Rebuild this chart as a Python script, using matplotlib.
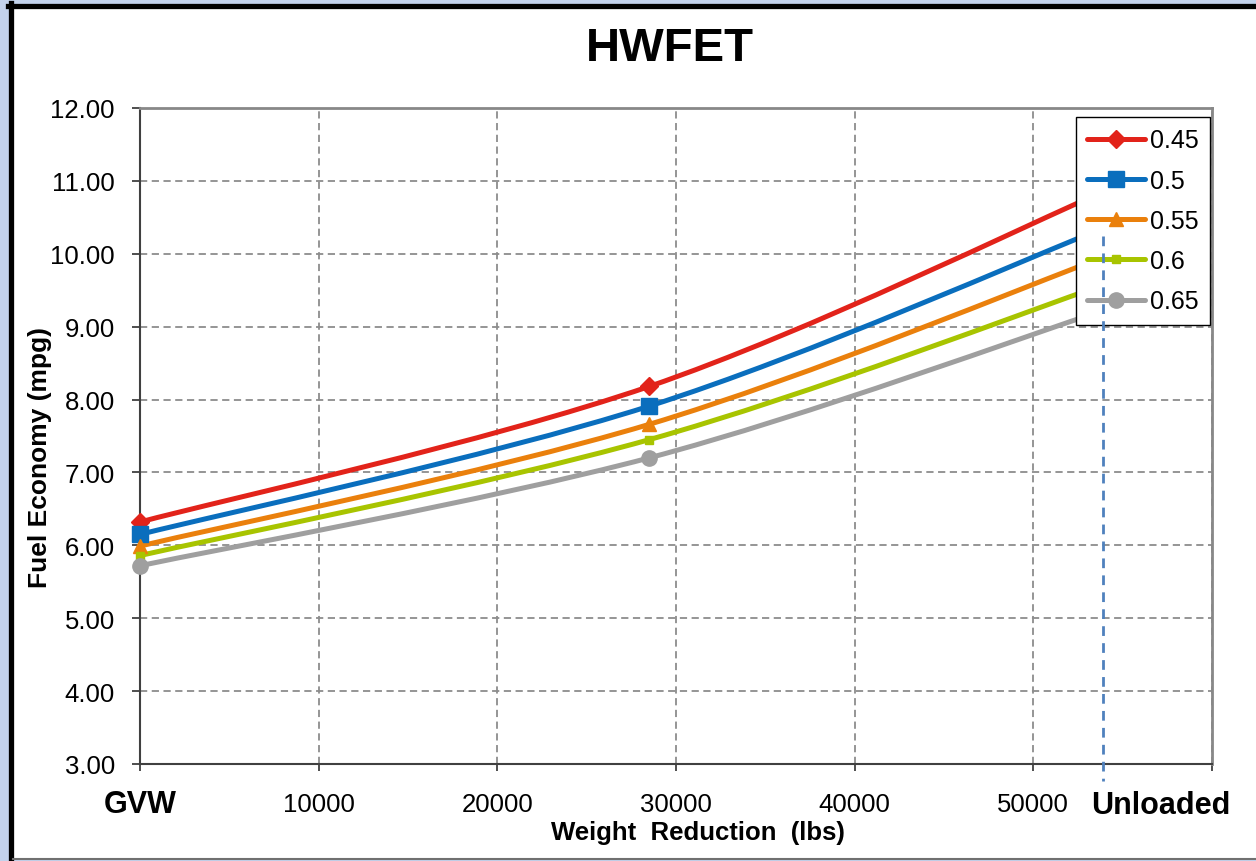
import numpy as np
import matplotlib.pyplot as plt
from matplotlib.path import Path
from matplotlib.patches import PathPatch, Rectangle
from matplotlib.lines import Line2D

plt.rcParams["font.family"] = ["Liberation Sans", "DejaVu Sans"]

# data
weight = [0, 28500, 53900]
series_names = ["0.45", "0.5", "0.55", "0.6", "0.65"]
mpg_045 = [6.32, 8.18, 10.85]
mpg_050 = [6.15, 7.91, 10.35]
mpg_055 = [5.99, 7.66, 9.95]
mpg_060 = [5.86, 7.45, 9.57]
mpg_065 = [5.72, 7.20, 9.22]
unloaded_x = 53900

x_ticks = [0, 10000, 20000, 30000, 40000, 50000, 60000]
x_tick_labels = ["GVW", "10000", "20000", "30000", "40000", "50000", ""]
y_ticks = [3, 4, 5, 6, 7, 8, 9, 10, 11, 12]

colors = ["#e2231a", "#0a6ebd", "#ea800c", "#a8c400", "#9f9f9f"]
markers = ["D", "s", "^", "s", "o"]
marker_sizes = [9, 11, 10, 6, 11]


def smooth_path(xs, ys):
    """Excel-like smoothed line: Catmull-Rom segments as cubic Beziers."""
    pts = np.column_stack([xs, ys]).astype(float)
    n = len(pts)
    verts = [pts[0]]
    codes = [Path.MOVETO]
    for i in range(n - 1):
        p_prev = pts[max(i - 1, 0)]
        p_next = pts[min(i + 2, n - 1)]
        c1 = pts[i] + (pts[i + 1] - p_prev) / 6
        c2 = pts[i + 1] - (p_next - pts[i]) / 6
        verts += [c1, c2, pts[i + 1]]
        codes += [Path.CURVE4] * 3
    return Path(verts, codes)


W, H = 1256, 862
fig = plt.figure(figsize=(W / 100, H / 100), dpi=100, facecolor="#c3d2ec")

# white chart area with the dark frame on left / top
fig.patches.append(Rectangle((13 / W, 1 - 859 / H), 1, (859 - 9) / H,
                             transform=fig.transFigure, facecolor="white",
                             edgecolor="none", zorder=-10))
fig.lines.append(Line2D([10.5 / W, 10.5 / W], [1 - 861 / H, 1 - 4 / H],
                        transform=fig.transFigure, color="black", lw=3.8, zorder=-5))
fig.lines.append(Line2D([8 / W, 1], [1 - 6.5 / H, 1 - 6.5 / H],
                        transform=fig.transFigure, color="black", lw=3.8, zorder=-5))
fig.lines.append(Line2D([13 / W, 1], [1 - 860 / H, 1 - 860 / H],
                        transform=fig.transFigure, color="#707070", lw=1.5, zorder=-5))

ax = fig.add_axes([140 / W, 1 - 765 / H, (1212 - 140) / W, (765 - 109) / H])
ax.set_facecolor("none")

all_series = [mpg_045, mpg_050, mpg_055, mpg_060, mpg_065]
handles = []
for vals, name, c, m, ms in zip(all_series, series_names, colors, markers, marker_sizes):
    ax.add_patch(PathPatch(smooth_path(weight, vals), facecolor="none",
                           edgecolor=c, lw=3.6, capstyle="round", zorder=3))
    ax.plot(weight, vals, linestyle="none", marker=m, ms=ms, color=c,
            markeredgecolor=c, zorder=4, clip_on=False)
    handles.append(Line2D([], [], color=c, lw=3.6, marker=m, ms=ms,
                          solid_capstyle="round", label=name))

ax.set_xlim(0, 60000)
ax.set_ylim(3, 12)
ax.set_xticks(x_ticks)
ax.set_xticklabels(x_tick_labels)
ax.set_yticks(y_ticks)
ax.set_yticklabels(["%.2f" % v for v in y_ticks])

ax.grid(True, color="#8c8c8c", linestyle=(0, (4, 2.5)), lw=1.3, zorder=1)
ax.set_axisbelow(True)
ax.tick_params(axis="y", direction="out", length=6, width=1.3,
               color="#404040", labelsize=18.5, pad=12)
ax.tick_params(axis="x", direction="out", length=5, width=1.3,
               color="#404040", labelsize=18.5, pad=24)
for lab in ax.get_xticklabels():
    lab.set_va("center")
gvw = ax.get_xticklabels()[0]
gvw.set_fontweight("bold")
gvw.set_fontsize(22)

for side in ["left", "bottom"]:
    ax.spines[side].set_color("#404040")
    ax.spines[side].set_linewidth(1.5)
for side in ["top", "right"]:
    ax.spines[side].set_color("#888888")
    ax.spines[side].set_linewidth(2)

ax.text(57150, -0.0625, "Unloaded", transform=ax.get_xaxis_transform(),
        ha="center", va="center", fontsize=22, fontweight="bold")

leg = ax.legend(handles=handles, loc="upper right", bbox_to_anchor=(0.998, 0.986),
                fontsize=18, frameon=True, fancybox=False, framealpha=1,
                edgecolor="black", handlelength=2.3, handletextpad=0.2,
                labelspacing=0.65, borderpad=0.45, borderaxespad=0)
leg.get_frame().set_linewidth(1.0)
leg.set_zorder(5)

# "Unloaded" marker line, drawn over the legend and below the axis
ax.plot([unloaded_x, unloaded_x], [10.24, 2.77], color="#4f81bd", lw=2,
        linestyle=(0, (3.5, 2.6)), zorder=6, clip_on=False)

fig.text(670 / W, 1 - 49 / H, "HWFET", ha="center", va="center",
         fontsize=34, fontweight="bold")
fig.text(40 / W, 1 - 457 / H, "Fuel Economy (mpg)", ha="center", va="center",
         rotation=90, fontsize=19, fontweight="bold")
fig.text(698 / W, 1 - 833 / H, "Weight  Reduction  (lbs)", ha="center",
         va="center", fontsize=18.5, fontweight="bold")

fig.savefig("out.png", dpi=100, facecolor=fig.get_facecolor())
